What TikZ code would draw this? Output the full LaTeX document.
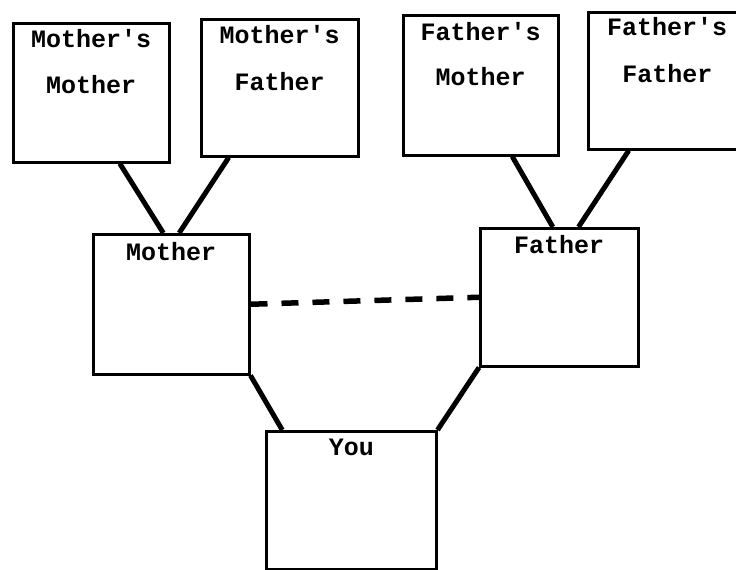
\documentclass[tikz,border=0pt]{standalone}
\usepackage{fontspec}
\newfontfamily\typewriter{Liberation Mono}
\usetikzlibrary{calc}
\begin{document}
\begin{tikzpicture}[x=1pt,y=-1pt,
  famebox/.style={draw, line width=2.5pt, rectangle, inner sep=0pt, anchor=north west},
  lbl/.style={font=\typewriter\bfseries\fontsize{25}{30}\selectfont, anchor=base, inner sep=0pt},
  link/.style={line width=5pt},
  spouse/.style={line width=5.5pt, dash pattern=on 17pt off 14pt}]
\useasboundingbox (0,0) rectangle (736,570);
\begin{scope}
\clip (0,0) rectangle (736,570);
% grandparents
\node[famebox, minimum width=156pt, minimum height=139pt] (mm) at (12,22) {};
\node[famebox, minimum width=157pt, minimum height=137pt] (mf) at (200,18) {};
\node[famebox, minimum width=155pt, minimum height=140pt] (fm) at (402,14) {};
\node[famebox, minimum width=158pt, minimum height=137pt] (ff) at (587,11) {};
% parents
\node[famebox, minimum width=156pt, minimum height=140pt] (mo) at (92,233) {};
\node[famebox, minimum width=158pt, minimum height=138pt] (fa) at (479,227) {};
% child
\node[famebox, minimum width=170pt, minimum height=138pt] (you) at (265,430) {};

% labels
\node[lbl] (mmA) at ($(mm.north)+(0,25)$) {Mother's};
\node[lbl] (mmB) at ($(mm.north)+(0,71)$) {Mother};
\node[lbl] (mfA) at ($(mf.north)+(0,25)$) {Mother's};
\node[lbl] (mfB) at ($(mf.north)+(0,72)$) {Father};
\node[lbl] (fmA) at ($(fm.north)+(0,26)$) {Father's};
\node[lbl] (fmB) at ($(fm.north)+(0,71)$) {Mother};
\node[lbl] (ffA) at ($(ff.north)+(0,24)$) {Father's};
\node[lbl] (ffB) at ($(ff.north)+(0,71)$) {Father};
\node[lbl] (moA) at ($(mo.north)+(0,27)$) {Mother};
\node[lbl] (faA) at ($(fa.north)+(0,26)$) {Father};
\node[lbl] (youA) at ($(you.north)+(0,25)$) {You};

% lines of descent
\draw[link] ($(mm.south west)!0.68!(mm.south east)$) -- ($(mo.north west)!0.45!(mo.north east)$);
\draw[link] ($(mf.south west)!0.18!(mf.south east)$) -- ($(mo.north west)!0.55!(mo.north east)$);
\draw[link] ($(fm.south west)!0.70!(fm.south east)$) -- ($(fa.north west)!0.46!(fa.north east)$);
\draw[link] ($(ff.south west)!0.26!(ff.south east)$) -- ($(fa.north west)!0.62!(fa.north east)$);
\draw[link] (mo.south east) -- ($(you.north west)!0.10!(you.north east)$);
\draw[link] (fa.south west) -- (you.north east);
% marriage
\draw[spouse] (mo.east) -- (fa.west);
\end{scope}
\end{tikzpicture}
\end{document}
